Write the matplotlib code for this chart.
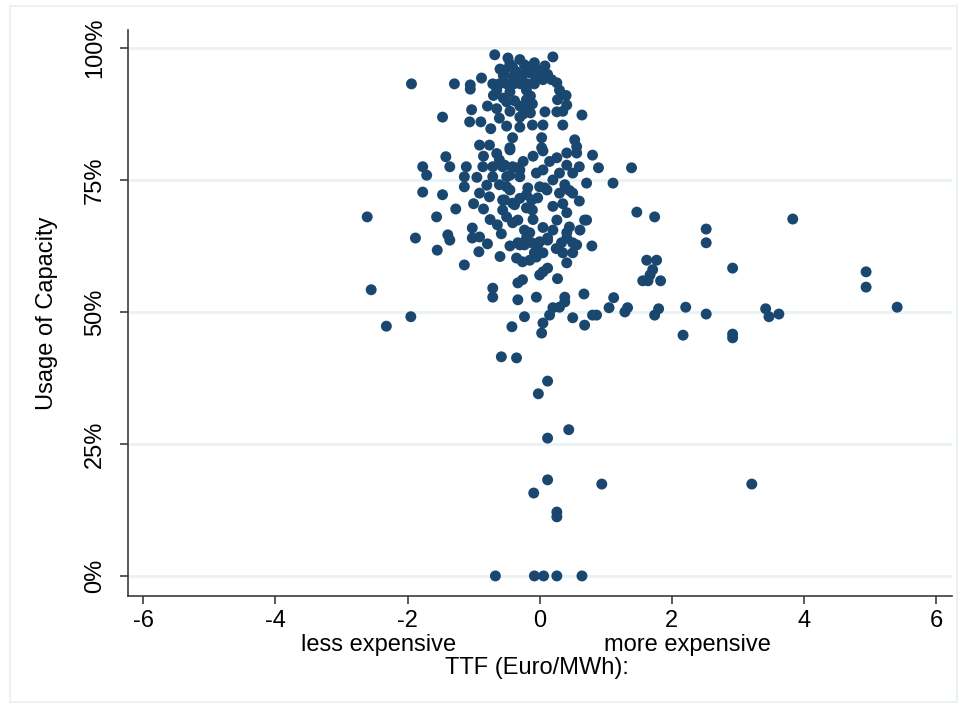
import matplotlib
matplotlib.use("Agg")
import matplotlib.pyplot as plt
import matplotlib.transforms as mtransforms
from matplotlib.patches import Rectangle

# ---- data (TTF price difference in Euro/MWh, usage of capacity in %) ----
ttf = [
    -0.68, -0.48, 0.20, -0.08, 0.08, -0.41, -0.23, -0.27, -0.15, -0.35, 0.00, -0.53,
    -1.94, -1.29, -1.05, -1.05, -0.88,
    -0.71, -0.61, -0.50, -0.39, -0.29, -0.18, -0.08,
    -0.65, -0.45, -0.20, -0.14, -0.20, -0.11, -0.18, -0.14, -0.06,
    0.26, 0.30, 0.27, 0.41, 0.12, 0.18,
    -0.60, -0.45, -0.30, -0.55, -0.40, -0.20, -0.10, 0.05, -0.70, -0.55, -0.38, -0.30, -0.25, 0.40, 0.35, -0.45, -0.65,
    -0.50, 0.64, -1.03, -0.79, -1.47, -1.06, -0.89, -0.74, -0.61, -0.50, -0.30, -0.30, -0.11, 0.05, 0.08, 0.26, 0.35,
    -0.41, 0.03, 0.53, 0.56, -0.91, -0.76, -0.45, 0.03, 0.41, 0.56, 0.80, -1.42,
    -1.77, -1.71, -1.36, -1.11, -1.14, -1.14, -0.86, -0.71, -0.56, -0.41, -0.30, -0.71, -0.50, -0.50, -0.61,
    -0.05, 0.05, 0.26, 0.41, 0.30, 0.50, 0.89, 1.39, 0.71, 1.11,
    -0.85, -0.65, -0.95, -0.80, -0.25, -0.10, 0.15, 0.20, 0.45, 0.60, 0.60, -1.00, -0.85, -0.30, 0.20, 0.35,
    -1.77, -1.47, -0.91, -0.76, -0.56, -0.41, -0.56, -0.20, 0.00, 0.11, -0.11, 0.30, 0.50, 0.38, -0.12, -0.03, -0.20,
    -0.61, -0.53, -0.45, -0.45, -0.53, -0.38, -0.33, -0.30, -0.18, 0.08, -0.45, 0.05,
    -2.61, -1.56, -1.27, -1.02, -0.91, -1.02, -0.64, -0.58, -0.41, -0.33, -0.23, -0.15, -0.33, -0.23, -0.12, 0.00,
    0.12, -0.35, -0.26, -0.15, -0.05, 0.05,
    -0.50, -0.75, -0.10, 0.05, 0.20, 0.25, -0.45, -0.60,
    0.26, 0.41, 0.45, 0.41, 0.61, 0.71, 0.33, 0.50, 0.35, 0.50, 0.41, 0.79, 1.47, 1.74, 0.56, 0.41, 0.68,
    -0.20, -0.30, -0.03, 0.12, -0.08,
    -1.88, -1.39, -1.36, -1.55, -0.79, -0.92, -1.14,
    0.00, 0.12, 0.05, 0.27, -0.33, -0.26, -0.71, -0.71, -0.33, -0.05, 0.38, 0.38, 0.67, 0.20, 0.30, 0.15,
    0.05, 0.03, 0.50, -0.23, -0.42, 0.68, 0.80, 0.86, 1.05, 1.12, 1.29, 1.33,
    1.62, 1.77, 1.71, 1.67, 1.56, 1.64, 1.83, 1.74, 1.80,
    -1.95, -2.32, -2.55,
    2.21, 2.52, 2.52, 2.52, 2.17, 2.92, 2.92, 2.92, 3.83, 3.42, 3.47, 3.62, 4.94, 4.94, 5.41,
    -0.58, -0.35, 0.12, -0.02, 0.44, 0.12, 0.12, 0.94, 3.21, -0.09, 0.26, 0.26,
    -0.67, -0.08, 0.06, 0.26, 0.64,
]
usage = [
    98.7, 98.1, 98.3, 97.2, 96.6, 96.4, 96.8, 94.5, 95.3, 95.5, 95.8, 95.8,
    93.2, 93.2, 93.0, 92.2, 94.3,
    93.2, 93.2, 93.2, 93.2, 93.2, 93.2, 93.2,
    92.0, 91.7, 92.0, 90.9, 90.2, 89.4, 88.6, 87.7, 94.1,
    93.4, 92.0, 90.2, 89.2, 95.0, 94.0,
    96.0, 97.0, 97.8, 94.8, 94.6, 95.5, 96.0, 94.0, 91.0, 90.5, 90.0, 89.0, 87.5, 91.0, 88.0, 88.0, 88.5,
    89.8, 87.3, 88.3, 89.0, 86.9, 86.0, 86.0, 84.7, 86.7, 85.2, 85.0, 86.9, 85.4, 85.4, 87.9, 87.9, 85.4,
    83.0, 83.0, 82.6, 81.3, 81.6, 81.6, 81.1, 81.1, 80.1, 80.1, 79.7, 79.4,
    77.5, 75.9, 77.5, 77.5, 75.6, 73.7, 77.5, 77.5, 77.5, 77.5, 76.9, 75.6, 75.6, 73.7, 74.1,
    76.3, 76.9, 79.2, 77.8, 76.3, 76.3, 77.3, 77.3, 74.4, 74.4,
    79.5, 80.0, 75.5, 74.0, 78.5, 79.5, 78.5, 75.0, 73.0, 77.5, 71.0, 70.5, 69.5, 71.5, 70.0, 70.5,
    72.7, 72.2, 72.5, 71.8, 71.2, 70.6, 69.3, 72.2, 73.7, 73.1, 69.3, 72.5, 72.5, 74.1, 71.2, 71.6, 69.7,
    78.8, 77.8, 75.9, 73.1, 71.2, 70.3, 77.3, 75.6, 73.5, 73.5, 80.7, 80.5,
    68.0, 68.0, 69.5, 65.9, 64.2, 64.0, 66.5, 64.8, 66.9, 67.4, 65.5, 65.0, 63.1, 62.7, 63.1, 63.3,
    63.6, 60.2, 59.5, 59.8, 60.4, 61.2,
    68.0, 67.5, 67.5, 66.0, 65.5, 62.0, 62.5, 60.5,
    67.4, 68.8, 66.1, 65.0, 65.5, 67.4, 63.1, 63.1, 61.2, 61.2, 59.3, 62.5, 68.9, 68.0, 62.7, 64.0, 67.4,
    64.0, 62.7, 62.7, 64.0, 61.2,
    64.0, 64.6, 63.6, 61.7, 62.9, 61.4, 58.9,
    57.0, 58.3, 57.6, 56.3, 55.5, 56.1, 54.5, 52.8, 52.3, 52.8, 52.8, 51.9, 53.4, 50.8, 50.9, 49.4,
    47.9, 46.0, 48.9, 49.1, 47.2, 47.5, 49.4, 49.4, 50.8, 52.7, 50.0, 50.8,
    59.8, 59.8, 58.0, 57.0, 55.9, 55.9, 55.9, 49.4, 50.6,
    49.1, 47.3, 54.2,
    50.9, 49.6, 65.7, 63.1, 45.6, 58.3, 45.8, 45.1, 67.6, 50.6, 49.1, 49.6, 57.6, 54.7, 50.9,
    41.5, 41.3, 36.9, 34.5, 27.7, 26.1, 18.2, 17.4, 17.4, 15.7, 12.1, 11.2,
    0.0, 0.0, 0.0, 0.0, 0.0,
]
x_ticks = [-6, -4, -2, 0, 2, 4, 6]
y_ticks = [0, 25, 50, 75, 100]
y_tick_labels = ["0%", "25%", "50%", "75%", "100%"]
x_title = "TTF (Euro/MWh):"
y_title = "Usage of Capacity"
left_note = "less expensive"
right_note = "more expensive"

FONT = ["Liberation Sans", "DejaVu Sans"]
plt.rcParams["font.family"] = FONT
FS = 17
NAVY = "#1a476f"
GRID = "#eaf2f3"
AX = "#3c3c3c"

fig = plt.figure(figsize=(9.65, 7.08), dpi=100)
fig.patch.set_facecolor("white")
fig.patches.append(Rectangle((10 / 965, 6 / 708), 947 / 965, 696 / 708,
                             transform=fig.transFigure, fill=False,
                             edgecolor=GRID, linewidth=1.5))

ax = fig.add_axes([128 / 965, 1 - 596 / 708, (952 - 128) / 965, (596 - 30) / 708])
ax.scatter(ttf, usage, s=62, c=NAVY, edgecolors="none", zorder=3, clip_on=False)

ax.set_xlim(-6.23, 6.24)
ax.set_ylim(-3.8, 103.4)
ax.set_xticks(x_ticks)
ax.set_xticklabels([str(v) for v in x_ticks])
ax.set_yticks(y_ticks)
ax.set_yticklabels(y_tick_labels, rotation=90, va="center")
ax.yaxis.grid(True, color=GRID, linewidth=2)
ax.set_axisbelow(True)

for s in ["top", "right"]:
    ax.spines[s].set_visible(False)
for s in ["left", "bottom"]:
    ax.spines[s].set_color(AX)
    ax.spines[s].set_linewidth(1.2)
ax.tick_params(direction="out", length=6, width=1.2, color=AX, labelsize=FS,
               labelcolor="black")
ax.tick_params(axis="y", pad=10)
ax.tick_params(axis="x", pad=4)

trans = mtransforms.blended_transform_factory(ax.transData, ax.transAxes)
ax.text(-2.44, -0.087, left_note, transform=trans, ha="center", va="center", fontsize=FS)
ax.text(2.23, -0.087, right_note, transform=trans, ha="center", va="center", fontsize=FS)
ax.text(-0.04, -0.127, x_title, transform=trans, ha="center", va="center", fontsize=FS)
ax.text(-0.098, 0.5, y_title, transform=ax.transAxes, ha="center", va="center",
        rotation=90, fontsize=FS)

fig.savefig("out.png", dpi=100, facecolor="white")
